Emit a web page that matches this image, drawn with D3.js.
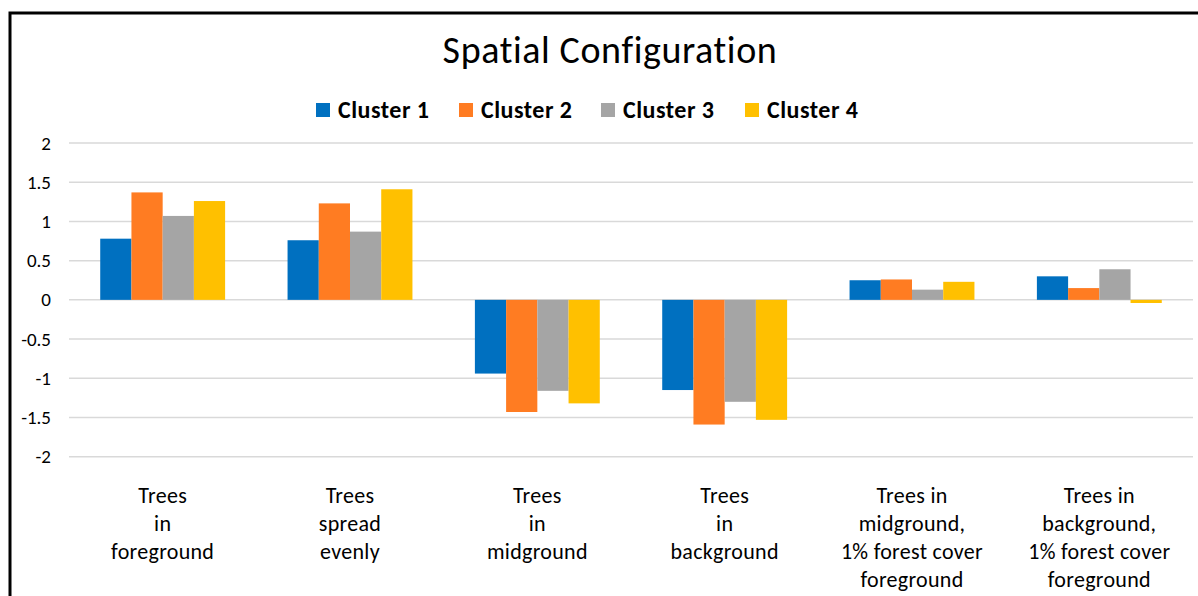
<!DOCTYPE html>
<html>
<head>
<meta charset="utf-8">
<script src="https://cdn.jsdelivr.net/npm/d3@7"></script>
<style>
  body { margin: 0; background: #fff; }
  svg { display: block; font-family: Carlito, Calibri, Lato, "Open Sans", sans-serif; }
</style>
</head>
<body>
<div id="chart"></div>
<script>
var categories = [
    ["Trees", "in", "foreground"],
    ["Trees", "spread", "evenly"],
    ["Trees", "in", "midground"],
    ["Trees", "in", "background"],
    ["Trees in", "midground,", "1% forest cover", "foreground"],
    ["Trees in", "background,", "1% forest cover", "foreground"]
];
var seriesNames = ["Cluster 1", "Cluster 2", "Cluster 3", "Cluster 4"];
var colors = ["#0070c0", "#ff7c22", "#a5a5a5", "#ffc000"];
var cluster1 = [0.78, 0.76, -0.94, -1.15, 0.25, 0.30];
var cluster2 = [1.37, 1.23, -1.43, -1.59, 0.26, 0.15];
var cluster3 = [1.07, 0.87, -1.16, -1.30, 0.13, 0.39];
var cluster4 = [1.26, 1.41, -1.32, -1.53, 0.23, -0.04];
var yTicks = [2, 1.5, 1, 0.5, 0, -0.5, -1, -1.5, -2];

var series = [cluster1, cluster2, cluster3, cluster4];

var width = 1198, height = 596;
var margin = {top: 143, right: 5, bottom: 139, left: 69};

var svg = d3.select("#chart").append("svg")
    .attr("width", width)
    .attr("height", height);

// chart border (runs off the right and bottom edges)
svg.append("rect")
    .attr("x", 10).attr("y", 13)
    .attr("width", width + 20).attr("height", height + 20)
    .attr("fill", "none")
    .attr("stroke", "#000")
    .attr("stroke-width", 3);

var x0 = d3.scaleBand()
    .domain(d3.range(categories.length))
    .range([margin.left, 1193]);

var x1 = d3.scaleBand()
    .domain(d3.range(series.length))
    .range([0, x0.bandwidth() * 4 / 6]);

var y = d3.scaleLinear()
    .domain([-2, 2])
    .range([height - margin.bottom - 0.3, margin.top]);

// gridlines
svg.append("g")
    .selectAll("line")
    .data(yTicks)
    .join("line")
    .attr("x1", margin.left).attr("x2", 1193)
    .attr("y1", function(d) { return y(d); })
    .attr("y2", function(d) { return y(d); })
    .attr("stroke", "#d9d9d9")
    .attr("stroke-width", 1.5);

// y axis labels
var yAxis = d3.axisLeft(y).tickValues(yTicks).tickSize(0).tickPadding(0)
    .tickFormat(function(d) { return String(d); });
svg.append("g")
    .attr("transform", "translate(51,0)")
    .call(yAxis)
    .call(function(g) { g.select(".domain").remove(); })
    .selectAll("text")
    .attr("font-family", "Carlito, Calibri, Lato, 'Open Sans', sans-serif")
    .attr("font-size", 19)
    .attr("fill", "#000");

// bars
var groupOffset = x0.bandwidth() / 6;
series.forEach(function(vals, s) {
    svg.append("g")
        .selectAll("rect")
        .data(vals)
        .join("rect")
        .attr("x", function(d, i) { return x0(i) + groupOffset + x1(s); })
        .attr("width", x1.bandwidth())
        .attr("y", function(d) { return y(Math.max(0, d)); })
        .attr("height", function(d) { return Math.abs(y(d) - y(0)); })
        .attr("fill", colors[s]);
});

// category labels
var labels = svg.append("g");
categories.forEach(function(lines, i) {
    var t = labels.append("text")
        .attr("x", x0(i) + x0.bandwidth() / 2)
        .attr("y", 503)
        .attr("text-anchor", "middle")
        .attr("font-size", 22)
        .attr("letter-spacing", 0.3)
        .attr("fill", "#000");
    lines.forEach(function(line, k) {
        t.append("tspan")
            .attr("x", x0(i) + x0.bandwidth() / 2)
            .attr("dy", k === 0 ? 0 : 28)
            .text(line);
    });
});

// title
svg.append("text")
    .attr("x", 610)
    .attr("y", 63)
    .attr("text-anchor", "middle")
    .attr("font-size", 38)
    .attr("letter-spacing", 0.6)
    .attr("fill", "#000")
    .text("Spatial Configuration");

// legend
var legendX = [316, 459, 601, 745];
var legend = svg.append("g");
seriesNames.forEach(function(name, s) {
    legend.append("rect")
        .attr("x", legendX[s]).attr("y", 103)
        .attr("width", 14).attr("height", 14)
        .attr("fill", colors[s]);
    legend.append("text")
        .attr("x", legendX[s] + 22)
        .attr("y", 118)
        .attr("font-size", 24)
        .attr("font-weight", "bold")
        .attr("letter-spacing", 0.5)
        .attr("fill", "#000")
        .text(name);
});
</script>
</body>
</html>
